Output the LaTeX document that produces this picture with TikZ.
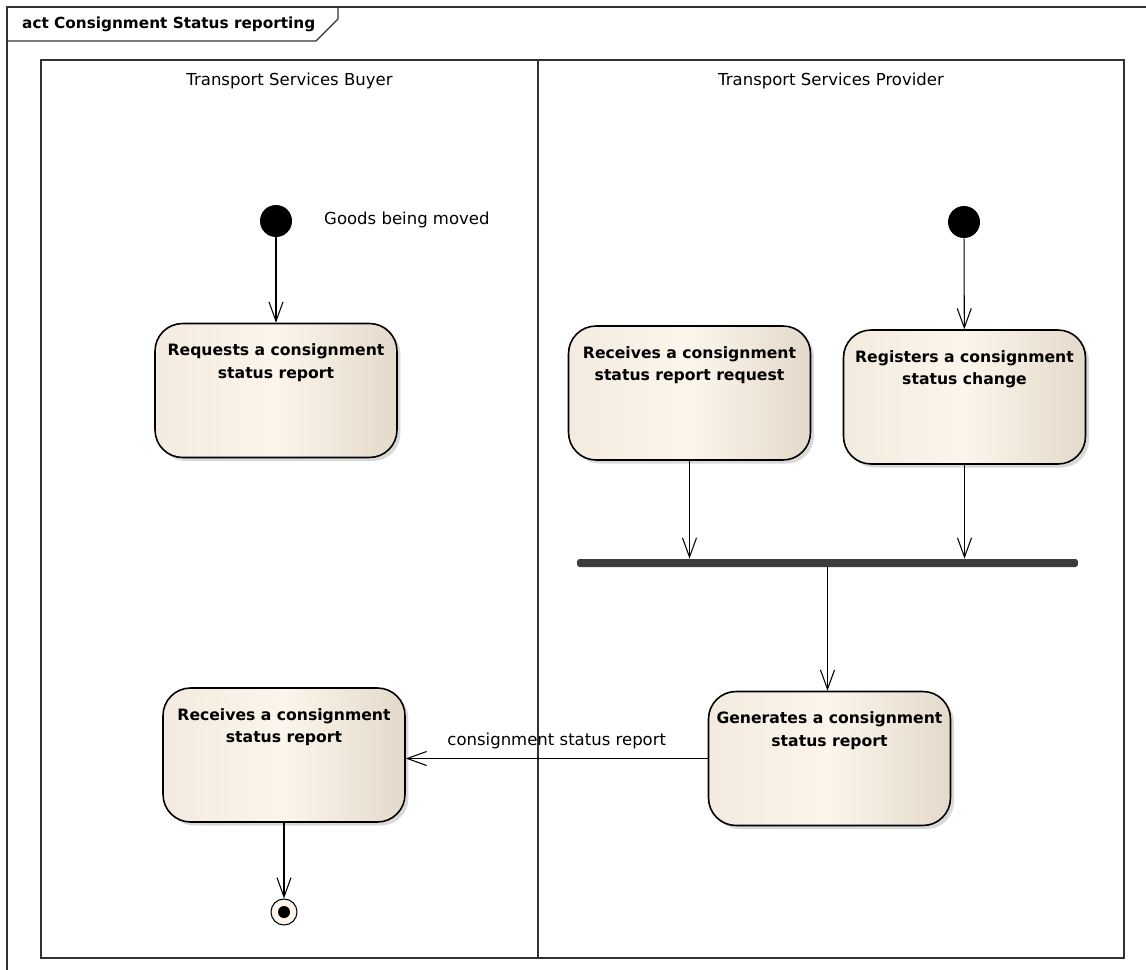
\documentclass[tikz,border=0pt]{standalone}
\usepackage{fontspec}
\setmainfont{DejaVu Sans}
\usetikzlibrary{arrows.meta,shadows,positioning}

\definecolor{actleft}{RGB}{243,235,223}
\definecolor{actmid}{RGB}{251,245,235}
\definecolor{actright}{RGB}{228,218,203}
\definecolor{framegray}{RGB}{50,50,50}
\definecolor{forkgray}{RGB}{60,60,60}

\tikzset{
  activity/.style={draw=black, line width=0.9pt, rounded corners=0.55cm,
    minimum width=4.84cm, minimum height=2.68cm,
    left color=actleft, right color=actright, middle color=actmid,
    drop shadow={shadow xshift=2pt, shadow yshift=-2pt, opacity=0.3}},
  acttext/.style={anchor=north, yshift=-0.42cm, align=center, inner sep=0pt,
    font=\fontsize{8.9}{12.8}\selectfont\bfseries},
  initial/.style={circle, fill=black, minimum size=0.64cm, inner sep=0pt},
  final/.style={circle, draw=black, line width=0.6pt, fill=actmid,
    minimum size=0.52cm, inner sep=0pt},
  flow/.style={line width=0.6pt, -{Straight Barb[length=11pt,width=8pt,line width=0.6pt]}},
  plain/.style={font=\fontsize{9.4}{11}\selectfont},
  frameline/.style={framegray, line width=0.8pt},
}

\begin{document}
\begin{tikzpicture}[x=0.02cm, y=-0.02cm]
\useasboundingbox (0,0) rectangle (1146,970);
% frame and title tab
\draw[frameline] (7,970) -- (7,7) -- (1146,7);
\draw[frameline] (7,41) -- (316,41) -- (338,19) -- (338,7);
\node[anchor=west, font=\fontsize{8.7}{11}\selectfont\bfseries] (title) at (16,24) {act Consignment Status reporting};
% swimlanes
\draw[frameline] (41,60) rectangle (1124,958);
\draw[frameline] (538,60) -- (538,958);
\node[plain] (buyer) at (289.5,81) {Transport Services Buyer};
\node[plain] (provider) at (831,81) {Transport Services Provider};

% buyer side
\node[initial] (start1) at (276,221) {};
\node[plain, anchor=west] (goods) at (318,220) {Goods being moved};
\node[activity] (req) at (276,390.5) {};
\node[acttext] (reqtext) at (req.north) {Requests a consignment\\status report};
\node[activity] (rcv) at (284,755) {};
\node[acttext] (rcvtext) at (rcv.north) {Receives a consignment\\status report};
\node[final] (end) at (284,912) {};
\fill (end) circle (0.12cm);

% provider side
\node[initial] (start2) at (964,222) {};
\node[activity] (rreq) at (689.5,393) {};
\node[acttext] (rreqtext) at (rreq.north) {Receives a consignment\\status report request};
\node[activity] (reg) at (964.5,397) {};
\node[acttext] (regtext) at (reg.north) {Registers a consignment\\status change};
\node[fill=forkgray, rounded corners=1.5pt, minimum width=10.02cm,
  minimum height=0.16cm, inner sep=0pt] (fork) at (827.5,563) {};
\node[activity] (gen) at (829.5,758.5) {};
\node[acttext] (gentext) at (gen.north) {Generates a consignment\\status report};

% flows
\draw[flow] (start1) -- (req);
\draw[flow] (start2) -- (reg);
\draw[flow] (rreq) -- (rreq.south |- fork.north);
\draw[flow] (reg) -- (reg.south |- fork.north);
\draw[flow] (fork.south) -- (fork.south |- gen.north);
\draw[flow] (gen.west) -- node[plain, above, yshift=2pt] (msg) {consignment status report} (gen.west -| rcv.east);
\draw[flow] (rcv) -- (end);
\end{tikzpicture}
\end{document}
